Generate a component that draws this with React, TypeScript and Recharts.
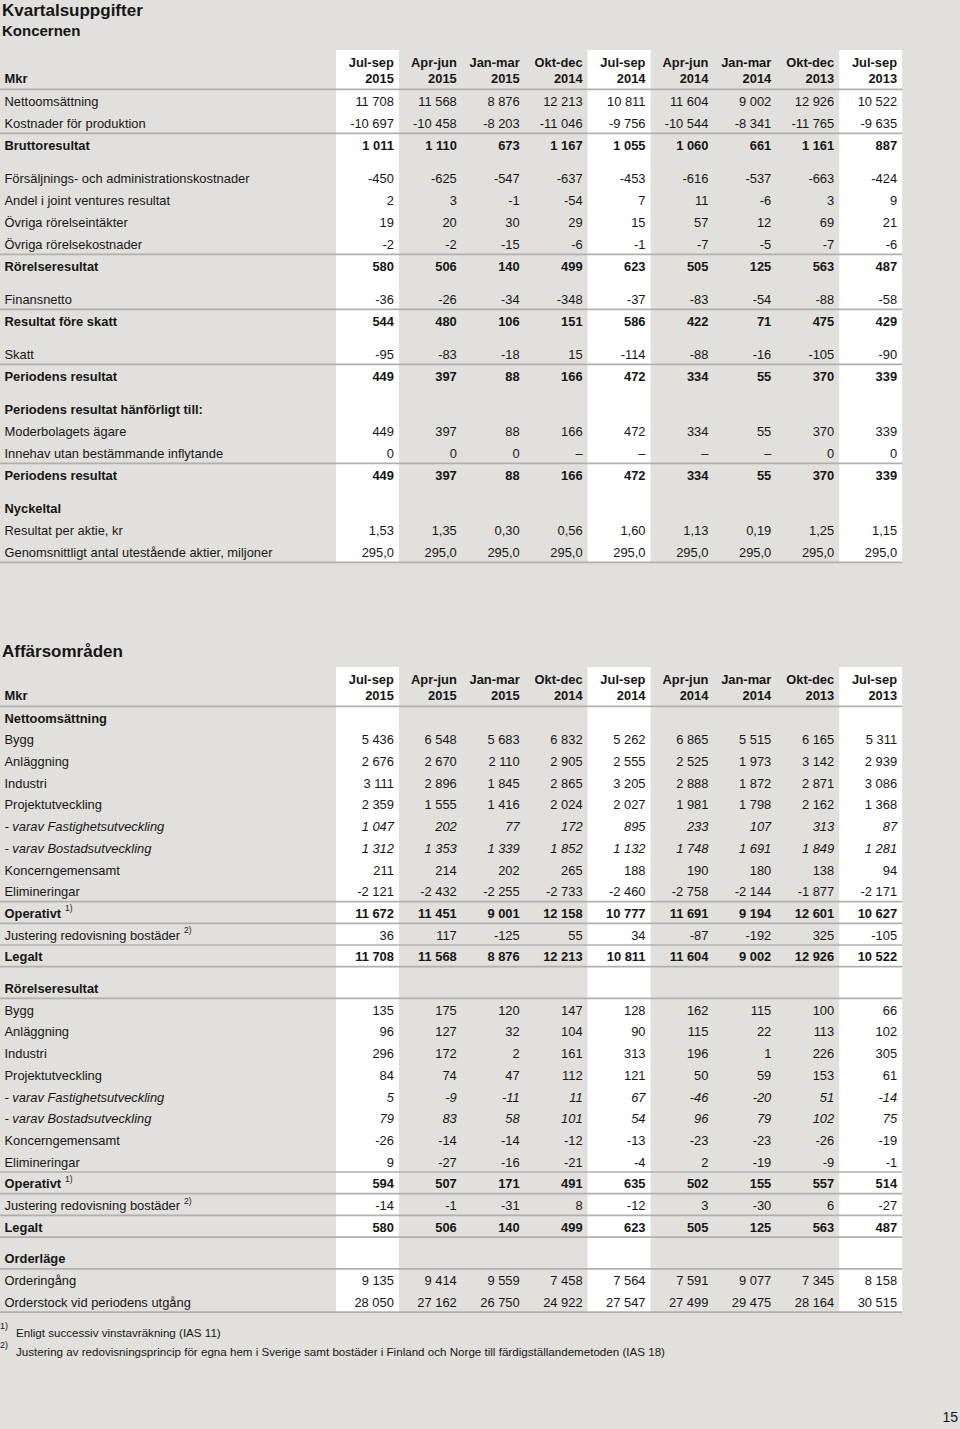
import React from 'react'
import { ScatterChart, Scatter, XAxis, YAxis, ReferenceArea, ReferenceLine } from 'recharts'

// column headers
const periodTop = ['Jul-sep', 'Apr-jun', 'Jan-mar', 'Okt-dec', 'Jul-sep', 'Apr-jun', 'Jan-mar', 'Okt-dec', 'Jul-sep']
const periodYear = ['2015', '2015', '2015', '2014', '2014', '2014', '2014', '2013', '2013']
const whiteCols = [0, 4, 8]

// Koncernen
const koncernLabels = [
  'Nettoomsättning',
  'Kostnader för produktion',
  'Bruttoresultat',
  'Försäljnings- och administrationskostnader',
  'Andel i joint ventures resultat',
  'Övriga rörelseintäkter',
  'Övriga rörelsekostnader',
  'Rörelseresultat',
  'Finansnetto',
  'Resultat före skatt',
  'Skatt',
  'Periodens resultat',
  'Periodens resultat hänförligt till:',
  'Moderbolagets ägare',
  'Innehav utan bestämmande inflytande',
  'Periodens resultat',
  'Nyckeltal',
  'Resultat per aktie, kr',
  'Genomsnittligt antal utestående aktier, miljoner',
]
const koncernValues: (number | null)[][] = [
  [11708, 11568, 8876, 12213, 10811, 11604, 9002, 12926, 10522],
  [-10697, -10458, -8203, -11046, -9756, -10544, -8341, -11765, -9635],
  [1011, 1110, 673, 1167, 1055, 1060, 661, 1161, 887],
  [-450, -625, -547, -637, -453, -616, -537, -663, -424],
  [2, 3, -1, -54, 7, 11, -6, 3, 9],
  [19, 20, 30, 29, 15, 57, 12, 69, 21],
  [-2, -2, -15, -6, -1, -7, -5, -7, -6],
  [580, 506, 140, 499, 623, 505, 125, 563, 487],
  [-36, -26, -34, -348, -37, -83, -54, -88, -58],
  [544, 480, 106, 151, 586, 422, 71, 475, 429],
  [-95, -83, -18, 15, -114, -88, -16, -105, -90],
  [449, 397, 88, 166, 472, 334, 55, 370, 339],
  [],
  [449, 397, 88, 166, 472, 334, 55, 370, 339],
  [0, 0, 0, null, null, null, null, 0, 0],
  [449, 397, 88, 166, 472, 334, 55, 370, 339],
  [],
  [1.53, 1.35, 0.3, 0.56, 1.6, 1.13, 0.19, 1.25, 1.15],
  [295, 295, 295, 295, 295, 295, 295, 295, 295],
]
const koncernDecimals: Record<number, number> = { 17: 2, 18: 1 }

// Affärsområden
const segmentLabels = ['Bygg', 'Anläggning', 'Industri', 'Projektutveckling', '- varav Fastighetsutveckling', '- varav Bostadsutveckling', 'Koncerngemensamt', 'Elimineringar', 'Operativt', 'Justering redovisning bostäder', 'Legalt']
const affarLabels = [
  'Nettoomsättning', ...segmentLabels,
  'Rörelseresultat', ...segmentLabels,
  'Orderläge', 'Orderingång', 'Orderstock vid periodens utgång',
]
const affarValues: (number | null)[][] = [
  [],
  [5436, 6548, 5683, 6832, 5262, 6865, 5515, 6165, 5311],
  [2676, 2670, 2110, 2905, 2555, 2525, 1973, 3142, 2939],
  [3111, 2896, 1845, 2865, 3205, 2888, 1872, 2871, 3086],
  [2359, 1555, 1416, 2024, 2027, 1981, 1798, 2162, 1368],
  [1047, 202, 77, 172, 895, 233, 107, 313, 87],
  [1312, 1353, 1339, 1852, 1132, 1748, 1691, 1849, 1281],
  [211, 214, 202, 265, 188, 190, 180, 138, 94],
  [-2121, -2432, -2255, -2733, -2460, -2758, -2144, -1877, -2171],
  [11672, 11451, 9001, 12158, 10777, 11691, 9194, 12601, 10627],
  [36, 117, -125, 55, 34, -87, -192, 325, -105],
  [11708, 11568, 8876, 12213, 10811, 11604, 9002, 12926, 10522],
  [],
  [135, 175, 120, 147, 128, 162, 115, 100, 66],
  [96, 127, 32, 104, 90, 115, 22, 113, 102],
  [296, 172, 2, 161, 313, 196, 1, 226, 305],
  [84, 74, 47, 112, 121, 50, 59, 153, 61],
  [5, -9, -11, 11, 67, -46, -20, 51, -14],
  [79, 83, 58, 101, 54, 96, 79, 102, 75],
  [-26, -14, -14, -12, -13, -23, -23, -26, -19],
  [9, -27, -16, -21, -4, 2, -19, -9, -1],
  [594, 507, 171, 491, 635, 502, 155, 557, 514],
  [-14, -1, -31, 8, -12, 3, -30, 6, -27],
  [580, 506, 140, 499, 623, 505, 125, 563, 487],
  [],
  [9135, 9414, 9559, 7458, 7564, 7591, 9077, 7345, 8158],
  [28050, 27162, 26750, 24922, 27547, 27499, 29475, 28164, 30515],
]
const affarSups: Record<number, string> = { 9: '1)', 10: '2)', 21: '1)', 22: '2)' }

const footnotes = [
  ['1)', 'Enligt successiv vinstavräkning (IAS 11)'],
  ['2)', 'Justering av redovisningsprincip för egna hem i Sverige samt bostäder i Finland och Norge till färdigställandemetoden (IAS 18)'],
]

// row styles: n normal, b bold, h section header, i italic
const koncernKinds = ['n', 'n', 'b', 'n', 'n', 'n', 'n', 'b', 'n', 'b', 'n', 'b', 'h', 'n', 'n', 'b', 'h', 'n', 'n']
const segKinds = ['n', 'n', 'n', 'n', 'i', 'i', 'n', 'n', 'b', 'n', 'b']
const affarKinds = ['h', ...segKinds, 'h', ...segKinds, 'h', 'n', 'n']
const koncernGaps = [3, 8, 10, 12, 16]
const koncernLines = [1, 6, 8, 10, 14, 18]
const affarGaps = [12, 24]
const affarLines = [8, 9, 10, 11, 12, 20, 21, 22, 23, 24, 26]

const PAGE_W = 960
const PAGE_H = 1429
const BG = '#e2e0dc'
const INK = '#161616'
const RULE = '#b2b0ad'
const FONT = '"Liberation Sans", Arial, Helvetica, sans-serif'
const CELL_FONT = 12.9
const COL_W = 62.9
const FIRST_LEFT = 336
const X_MIN = -FIRST_LEFT / COL_W - 0.5
const X_MAX = X_MIN + PAGE_W / COL_W
const HEADER_H = 39.3

type CellPoint = {
  x: number
  y: number
  text: string
  anchor: 'start' | 'end'
  bold?: boolean
  italic?: boolean
  sup?: string
}

const fmt = (v: number | null, dec = 0) => {
  if (v === null) return '–'
  const s = Math.abs(v).toFixed(dec)
  const [int, frac] = s.split('.')
  const grouped = int.replace(/\B(?=(\d{3})+(?!\d))/g, ' ')
  return (v < 0 ? '-' : '') + grouped + (frac ? ',' + frac : '')
}

function layoutTable(
  labels: string[],
  values: (number | null)[][],
  kinds: string[],
  gaps: number[],
  rules: number[],
  top: number,
  rowH: number,
  gapH: number,
  decimals: Record<number, number> = {},
  sups: Record<number, string> = {}
) {
  const cells: CellPoint[] = []
  const lines: number[] = []
  periodTop.forEach((p, i) => cells.push({ x: i + 0.5, y: top + 12, text: p, anchor: 'end', bold: true }))
  periodYear.forEach((p, i) => cells.push({ x: i + 0.5, y: top + 28, text: p, anchor: 'end', bold: true }))
  cells.push({ x: X_MIN, y: top + 28, text: 'Mkr', anchor: 'start', bold: true })
  let y = top + HEADER_H
  lines.push(y)
  labels.forEach((label, r) => {
    if (gaps.includes(r)) y += gapH
    const cy = y + rowH / 2 + 1
    const kind = kinds[r]
    const bold = kind === 'b' || kind === 'h'
    const italic = kind === 'i'
    cells.push({ x: X_MIN, y: cy, text: label, anchor: 'start', bold, italic, sup: sups[r] })
    values[r].forEach((v, i) =>
      cells.push({ x: i + 0.5, y: cy, text: fmt(v, decimals[r] ?? 0), anchor: 'end', bold, italic })
    )
    y += rowH
    if (rules.includes(r)) lines.push(y)
  })
  return { cells, lines, top, bottom: y }
}

const koncern = layoutTable(koncernLabels, koncernValues, koncernKinds, koncernGaps, koncernLines, 50, 22, 11, koncernDecimals)
const affar = layoutTable(affarLabels, affarValues, affarKinds, affarGaps, affarLines, 667, 21.7, 10, {}, affarSups)
const tables = [koncern, affar]
const allCells = [...koncern.cells, ...affar.cells]

const CellText = (props: any) => {
  const { cx, cy, payload } = props
  const p = payload as CellPoint
  return (
    <text
      x={cx + (p.anchor === 'end' ? -5 : 4.5)}
      y={cy}
      textAnchor={p.anchor}
      dominantBaseline="central"
      fontFamily={FONT}
      fontSize={CELL_FONT}
      fontWeight={p.bold ? 'bold' : 'normal'}
      fontStyle={p.italic ? 'italic' : 'normal'}
      fill={INK}
    >
      {p.text}
      {p.sup ? (
        <tspan fontSize={8.5} fontWeight="normal" dx={4} dy={-5}>
          {p.sup}
        </tspan>
      ) : null}
    </text>
  )
}

const abs = (left: number, top: number, size: number, bold = false): React.CSSProperties => ({
  position: 'absolute',
  left,
  top,
  fontSize: size,
  lineHeight: 1,
  fontWeight: bold ? 'bold' : 'normal',
  whiteSpace: 'nowrap',
  color: INK,
})

const App: React.FC = () => {
  return (
    <div style={{ position: 'absolute', left: 0, top: 0, width: PAGE_W, height: PAGE_H, background: BG, overflow: 'hidden', fontFamily: FONT }}>
      <ScatterChart width={PAGE_W} height={PAGE_H} margin={{ top: 0, right: 0, bottom: 0, left: 0 }} style={{ position: 'absolute', left: 0, top: 0 }}>
        <XAxis type="number" dataKey="x" domain={[X_MIN, X_MAX]} allowDataOverflow hide />
        <YAxis type="number" dataKey="y" domain={[0, PAGE_H]} reversed allowDataOverflow hide />
        {tables.map((t, ti) =>
          whiteCols.map((c) => (
            <ReferenceArea key={`a${ti}-${c}`} x1={c - 0.5} x2={c + 0.5} y1={t.top} y2={t.bottom} fill="#ffffff" fillOpacity={1} stroke="none" />
          ))
        )}
        {tables.map((t, ti) =>
          t.lines.map((ly, li) => (
            <ReferenceLine
              key={`l${ti}-${li}`}
              segment={[{ x: X_MIN, y: ly }, { x: 8.5, y: ly }]}
              stroke={RULE}
              strokeWidth={1.7}
            />
          ))
        )}
        <Scatter data={allCells} shape={CellText} isAnimationActive={false} />
      </ScatterChart>

      <div style={abs(2, 2.3, 17, true)}>Kvartalsuppgifter</div>
      <div style={abs(2, 23.3, 15, true)}>Koncernen</div>
      <div style={abs(2, 643, 17, true)}>Affärsområden</div>
      {footnotes.map(([mark, text], i) => (
        <React.Fragment key={mark}>
          <div style={abs(0, 1322 + i * 18.6, 9)}>{mark}</div>
          <div style={abs(16, 1327 + i * 18.6, 11.6)}>{text}</div>
        </React.Fragment>
      ))}
      <div style={{ ...abs(0, 1410, 14), left: 'auto', right: 2 }}>15</div>
    </div>
  )
}

export default App
